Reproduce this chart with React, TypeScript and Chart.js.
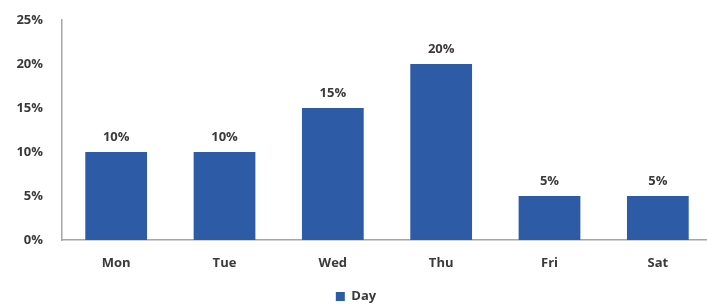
import React, { useEffect, useRef } from "react";
import { Chart, registerables } from "chart.js";

Chart.register(...registerables);

const categories = ["Mon", "Tue", "Wed", "Thu", "Fri", "Sat"];
const dayValues = [10, 10, 15, 20, 5, 5];
const seriesLabel = "Day";
const yMax = 25;
const yStep = 5;

const FONT = "'Open Sans', 'DejaVu Sans', sans-serif";
const BAR = "#2d5ba6";
const TEXT = "#3a3a3a";
const AXIS = "#a6a6a6";

const dataLabelPlugin = {
  id: "dataLabels",
  afterDatasetsDraw(chart: any) {
    const ctx = chart.ctx;
    const meta = chart.getDatasetMeta(0);
    ctx.save();
    ctx.font = `bold 13px ${FONT}`;
    ctx.fillStyle = TEXT;
    ctx.textAlign = "center";
    ctx.textBaseline = "middle";
    meta.data.forEach((el: any, i: number) => {
      ctx.fillText(`${dayValues[i]}%`, el.x, el.y - 15);
    });
    ctx.restore();
  },
};

export default function App() {
  const ref = useRef<HTMLCanvasElement | null>(null);
  useEffect(() => {
    if (!ref.current) return;
    const chart = new Chart(ref.current, {
      type: "bar",
      data: {
        labels: categories,
        datasets: [
          {
            label: seriesLabel,
            data: dayValues,
            backgroundColor: BAR,
            borderWidth: 0,
            categoryPercentage: 1,
            barPercentage: 0.57,
          },
        ],
      },
      options: {
        animation: false,
        responsive: false,
        maintainAspectRatio: false,
        layout: { padding: { top: 20, right: 0, left: 0, bottom: 0 } },
        plugins: {
          tooltip: { enabled: false },
          legend: {
            position: "bottom",
            labels: {
              font: { family: FONT, size: 13, weight: "bold" },
              color: TEXT,
              boxWidth: 9,
              boxHeight: 9,
              padding: 1,
            },
          },
        },
        scales: {
          x: {
            grid: { display: false, drawTicks: false },
            border: { color: AXIS, width: 1.5 },
            ticks: {
              color: TEXT,
              font: { family: FONT, size: 13, weight: "bold" },
              padding: 15,
            },
            afterFit(scale: any) {
              scale.height = 49;
            },
          },
          y: {
            min: 0,
            max: yMax,
            grid: { display: false, drawTicks: false },
            border: { color: AXIS, width: 1.5 },
            ticks: {
              stepSize: yStep,
              color: TEXT,
              font: { family: FONT, size: 13, weight: "bold" },
              padding: 19,
              callback: (v: any) => `${v}%`,
            },
            afterFit(scale: any) {
              scale.width = 62;
              scale.paddingTop = 0;
              scale.paddingBottom = 0;
            },
          },
        },
      },
      plugins: [dataLabelPlugin],
    });
    return () => chart.destroy();
  }, []);
  return (
    <div style={{ position: "fixed", left: 0, top: 0, width: 707, height: 304, overflow: "hidden", background: "#fff" }}>
      <canvas ref={ref} width={712} height={313} style={{ display: "block" }} />
    </div>
  );
}
